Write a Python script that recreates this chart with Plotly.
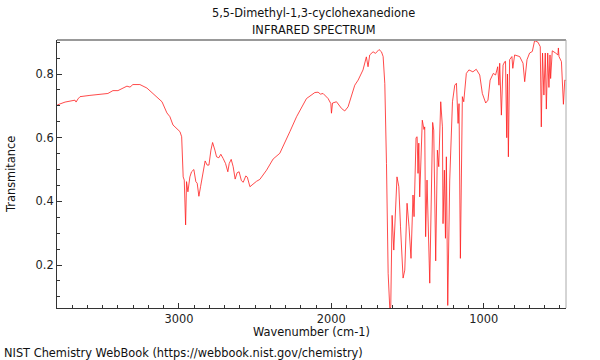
import plotly.graph_objects as go

# Wavenumber (cm-1) and transmittance
wavenumber = [
    3798, 3747, 3682, 3675, 3662, 3649, 3584, 3518, 3466, 3433, 3400, 3341, 3321, 3302, 3256,
    3210, 3144, 3111, 3079, 3059, 3039, 2993, 2982, 2972, 2965, 2956, 2950, 2941, 2928, 2917,
    2902, 2889, 2880, 2869, 2858, 2841, 2828, 2815, 2803, 2790, 2779, 2764, 2753, 2738, 2725,
    2710, 2694, 2679, 2670, 2657, 2644, 2631, 2618, 2605, 2590, 2578, 2561, 2551, 2534, 2491,
    2469, 2425, 2382, 2338, 2305, 2272, 2228, 2163, 2108, 2087, 2071, 2054, 2021, 2003, 1999,
    1992, 1966, 1933, 1912, 1890, 1846, 1824, 1792, 1770, 1759, 1748, 1726, 1710, 1687, 1671,
    1660, 1649, 1638, 1627, 1616, 1610, 1601, 1590, 1569, 1557, 1546, 1529, 1518, 1503, 1490,
    1477, 1464, 1457, 1444, 1437, 1431, 1426, 1420, 1403, 1392, 1387, 1381, 1372, 1354, 1335,
    1328, 1315, 1304, 1295, 1282, 1271, 1267, 1258, 1251, 1245, 1236, 1223, 1205, 1190, 1179,
    1168, 1162, 1153, 1140, 1131, 1114, 1097, 1071, 1049, 1026, 1009, 987, 972, 958, 937,
    922, 914, 908, 900, 895, 884, 873, 862, 857, 849, 844, 838, 830, 815, 809,
    797, 764, 742, 731, 716, 699, 681, 666, 644, 629, 622, 614, 605, 596, 589,
    580, 572, 565, 561, 550, 528, 513, 510, 506, 490, 484, 477, 468, 462,
]
transmittance = [
    0.703, 0.712, 0.718, 0.712, 0.722, 0.729, 0.733, 0.737, 0.739, 0.748, 0.748, 0.762, 0.759, 0.767, 0.767,
    0.756, 0.729, 0.713, 0.678, 0.666, 0.640, 0.619, 0.603, 0.477, 0.467, 0.326, 0.462, 0.430, 0.477, 0.493,
    0.500, 0.462, 0.457, 0.416, 0.446, 0.488, 0.527, 0.514, 0.514, 0.561, 0.585, 0.561, 0.540, 0.537, 0.548,
    0.535, 0.519, 0.493, 0.519, 0.532, 0.509, 0.470, 0.490, 0.493, 0.465, 0.460, 0.480, 0.476, 0.446, 0.463,
    0.469, 0.498, 0.533, 0.551, 0.583, 0.619, 0.666, 0.723, 0.742, 0.743, 0.737, 0.739, 0.723, 0.707, 0.677,
    0.709, 0.713, 0.692, 0.684, 0.697, 0.765, 0.781, 0.813, 0.854, 0.823, 0.860, 0.870, 0.865, 0.877, 0.870,
    0.855, 0.770, 0.519, 0.174, 0.060, 0.070, 0.356, 0.247, 0.477, 0.446, 0.320, 0.159, 0.184, 0.394, 0.320,
    0.221, 0.420, 0.352, 0.600, 0.603, 0.488, 0.583, 0.414, 0.655, 0.626, 0.634, 0.289, 0.467, 0.143, 0.648,
    0.624, 0.213, 0.561, 0.509, 0.713, 0.634, 0.330, 0.498, 0.284, 0.540, 0.073, 0.467, 0.713, 0.765, 0.771,
    0.645, 0.707, 0.221, 0.729, 0.713, 0.802, 0.813, 0.807, 0.815, 0.797, 0.739, 0.709, 0.718, 0.781, 0.802,
    0.797, 0.813, 0.823, 0.765, 0.834, 0.671, 0.828, 0.839, 0.840, 0.600, 0.800, 0.540, 0.845, 0.855, 0.818,
    0.860, 0.855, 0.834, 0.776, 0.845, 0.866, 0.871, 0.905, 0.900, 0.886, 0.634, 0.866, 0.734, 0.866, 0.690,
    0.866, 0.758, 0.860, 0.786, 0.873, 0.866, 0.860, 0.882, 0.855, 0.839, 0.776, 0.705, 0.781, 0.780,
]

title_lines = ["5,5-Dimethyl-1,3-cyclohexanedione", "INFRARED SPECTRUM"]
x_title = "Wavenumber (cm-1)"
y_title = "Transmitance"
footer = "NIST Chemistry WebBook (https://webbook.nist.gov/chemistry)"

FONT = "DejaVu Sans"
FS = 11.4

fig = go.Figure()
fig.add_trace(go.Scatter(
    x=wavenumber, y=transmittance, mode="lines",
    line=dict(color="rgba(255,30,30,0.8)", width=1),
    hoverinfo="skip",
))

axis_common = dict(
    showgrid=False, zeroline=False, showline=True, linecolor="#333333", linewidth=1,
    ticks="inside", ticklen=5, tickcolor="#333333",
    tickfont=dict(family=FONT, size=FS, color="#222222"),
)
fig.update_xaxes(
    range=[3800, 460], tickmode="linear", tick0=0, dtick=1000,
    minor=dict(dtick=100, tick0=0, ticks="inside", ticklen=3, tickcolor="#333333"),
    **axis_common,
)
fig.update_yaxes(
    range=[0.065, 0.907], tickmode="linear", tick0=0, dtick=0.2, tickformat=".1f",
    minor=dict(dtick=0.05, tick0=0, ticks="inside", ticklen=3, tickcolor="#333333"),
    **axis_common,
)

annots = [
    dict(text=title_lines[0], x=0.503, y=1.101),
    dict(text=title_lines[1], x=0.503, y=1.037),
    dict(text=x_title, x=0.5, y=-0.0896),
]
annotations = []
for a in annots:
    annotations.append(dict(text=a["text"], x=a["x"], y=a["y"], xref="paper", yref="paper",
                            xanchor="center", yanchor="middle", showarrow=False,
                            font=dict(family=FONT, size=FS, color="#111111")))
annotations.append(dict(text=y_title, x=-0.0904, y=0.5, xref="paper", yref="paper",
                        xanchor="center", yanchor="middle", textangle=-90, showarrow=False,
                        font=dict(family=FONT, size=FS, color="#111111")))
annotations.append(dict(text=footer, x=-0.108, y=-0.168, xref="paper", yref="paper",
                        xanchor="left", yanchor="middle", showarrow=False,
                        font=dict(family=FONT, size=FS, color="#111111")))

fig.update_layout(
    width=600, height=360,
    margin=dict(l=57, r=34, t=40, b=52),
    paper_bgcolor="white", plot_bgcolor="white",
    showlegend=False,
    annotations=annotations,
    shapes=[
        dict(type="line", xref="paper", yref="paper", x0=0, x1=1, y0=1, y1=1,
             line=dict(color="#999999", width=2)),
        dict(type="line", xref="paper", yref="paper", x0=1, x1=1, y0=0, y1=1,
             line=dict(color="#aaaaaa", width=1)),
    ],
)

fig.write_html("out.html", config={"displayModeBar": False},
               post_script="document.body.style.margin='0';document.body.style.overflow='hidden';")
